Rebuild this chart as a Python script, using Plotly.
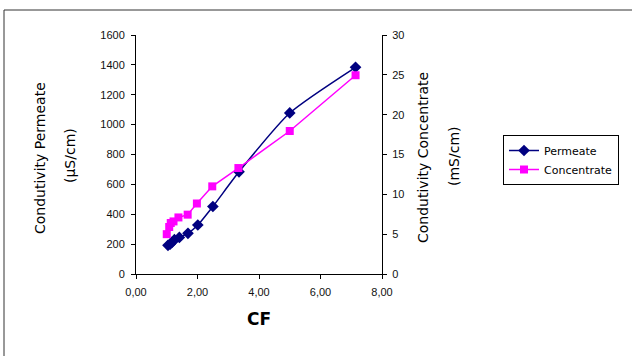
import plotly.graph_objects as go

cf_perm = [1.04, 1.11, 1.17, 1.25, 1.41, 1.69, 2.01, 2.50, 3.35, 5.00, 7.14]
permeate = [192, 200, 212, 230, 245, 272, 328, 452, 684, 1078, 1384]
cf_conc = [1.00, 1.08, 1.13, 1.22, 1.38, 1.68, 1.98, 2.48, 3.33, 5.00, 7.14]
concentrate = [5.0, 5.9, 6.4, 6.6, 7.1, 7.45, 8.85, 11.0, 13.3, 17.95, 24.95]
x_ticks = [0, 2, 4, 6, 8]
x_tick_labels = ["0,00", "2,00", "4,00", "6,00", "8,00"]
y1_ticks = [0, 200, 400, 600, 800, 1000, 1200, 1400, 1600]
y2_ticks = [0, 5, 10, 15, 20, 25, 30]

W, H = 632, 356
L, R, T, B = 136, 382, 35, 274

def px(x):
    return (x - L) / (R - L)

def py(y):
    return (B - y) / (B - T)

tickfont = dict(family="Liberation Sans, Arial", size=11, color="#111")
titlefont = dict(family="DejaVu Sans", size=14, color="#000")

fig = go.Figure()
fig.add_trace(go.Scatter(
    x=cf_perm, y=permeate, name="Permeate", mode="lines+markers",
    line=dict(color="#000080", width=1.5, shape="spline", smoothing=0.6),
    marker=dict(symbol="diamond", size=9, color="#000080"),
))
fig.add_trace(go.Scatter(
    x=cf_conc, y=concentrate, name="Concentrate", mode="lines+markers", yaxis="y2",
    line=dict(color="#FF00FF", width=1.5),
    marker=dict(symbol="square", size=8, color="#FF00FF"),
))

axis_common = dict(showgrid=False, zeroline=False, showline=True, linecolor="#000",
                   linewidth=1, ticks="outside", ticklen=4, tickcolor="#000",
                   tickfont=tickfont)

fig.update_layout(
    width=W, height=H,
    margin=dict(l=L, r=W - R, t=T, b=H - B, pad=0),
    paper_bgcolor="white", plot_bgcolor="white",
    xaxis=dict(range=[0, 8], tickvals=x_ticks, ticktext=x_tick_labels,
               ticklabelstandoff=4, **axis_common),
    yaxis=dict(range=[0, 1600], tickvals=y1_ticks, ticklabelstandoff=4, **axis_common),
    yaxis2=dict(range=[0, 30], tickvals=y2_ticks, overlaying="y", side="right",
                ticklabelstandoff=3, **axis_common),
    legend=dict(x=px(503), y=py(135), xanchor="left", yanchor="top",
                bordercolor="#000", borderwidth=1, bgcolor="white",
                font=dict(family="DejaVu Sans", size=11, color="#000"),
                tracegroupgap=0, itemwidth=30),
    showlegend=True,
)

annotations = [
    dict(text="Condutivity Permeate", x=px(40), y=py(158), textangle=-90),
    dict(text="(µS/cm)", x=px(70), y=py(156), textangle=-90),
    dict(text="Condutivity Concentrate", x=px(423), y=py(158), textangle=-90),
    dict(text="(mS/cm)", x=px(454), y=py(156), textangle=-90),
]
for a in annotations:
    fig.add_annotation(xref="paper", yref="paper", showarrow=False,
                       xanchor="center", yanchor="middle", font=titlefont, **a)
fig.add_annotation(text="<b>CF</b>", xref="paper", yref="paper", x=px(259), y=py(319),
                   showarrow=False, xanchor="center", yanchor="middle",
                   font=dict(family="DejaVu Sans", size=17, color="#000"))

fig.add_shape(type="rect", xref="paper", yref="paper",
              x0=px(4), x1=px(660), y0=py(400), y1=py(10),
              line=dict(color="#333", width=1), layer="below")

fig.write_html("out.html")
